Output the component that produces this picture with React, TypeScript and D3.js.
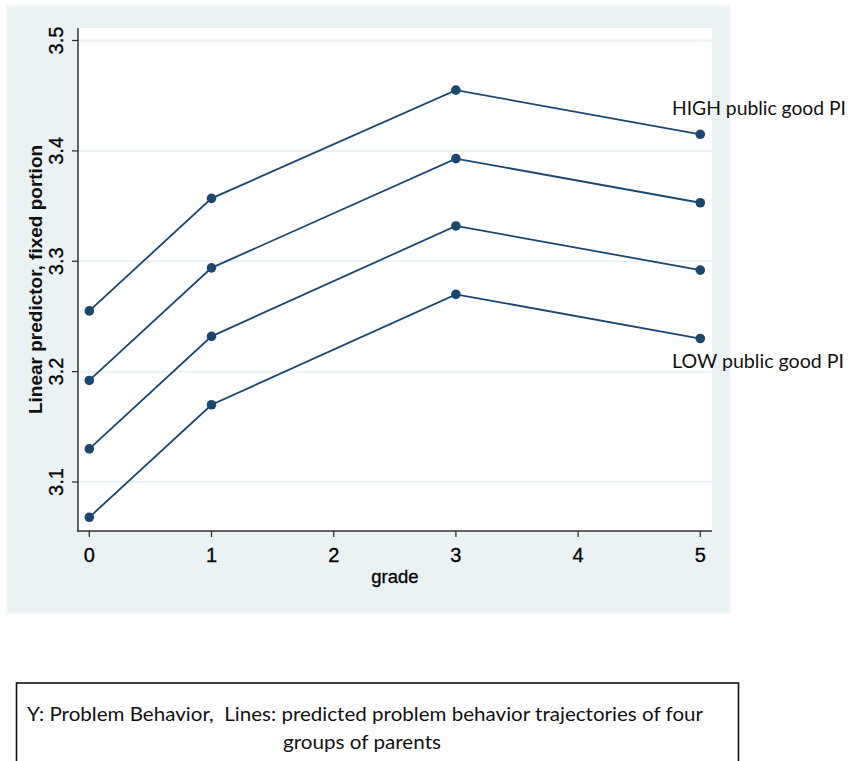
import React from 'react';
import * as d3 from 'd3';

// predicted problem behavior, four groups of parents (public good PI)
const grades = [0, 1, 3, 5];
const highPI = [3.255, 3.357, 3.455, 3.415];
const midHighPI = [3.192, 3.294, 3.393, 3.353];
const midLowPI = [3.13, 3.232, 3.332, 3.292];
const lowPI = [3.068, 3.17, 3.27, 3.23];
const seriesList = [highPI, midHighPI, midLowPI, lowPI];

const xTicks = [0, 1, 2, 3, 4, 5];
const yTicks = [3.1, 3.2, 3.3, 3.4, 3.5];

const W = 849;
const H = 761;
const plot = { left: 78, right: 712, top: 28, bottom: 531 };
const lineColor = '#1a476f';
const bg = '#eaf2f3';

const App: React.FC = () => {
  const x = d3.scaleLinear().domain([0, 5]).range([89.3, 700.3]);
  const y = d3.scaleLinear().domain([3.1, 3.5]).range([482, 40.5]);

  const line = d3
    .line<number>()
    .x((_, i) => x(grades[i]))
    .y(d => y(d));

  const axisFont = '"Liberation Sans", Arial, sans-serif';
  const noteFont = 'Lato, "Open Sans", sans-serif';

  return (
    <svg
      width={W}
      height={H}
      style={{ position: 'absolute', left: 0, top: 0, background: '#fff' }}
    >
      {/* graph region */}
      <rect x={7} y={6} width={723} height={607} fill={bg} stroke="#f3f7f8" strokeWidth={2} />
      <rect
        x={plot.left}
        y={plot.top}
        width={plot.right - plot.left}
        height={plot.bottom - plot.top}
        fill="#fff"
      />

      {/* gridlines */}
      {yTicks.map(t => (
        <line
          key={'g' + t}
          x1={plot.left}
          x2={plot.right}
          y1={y(t)}
          y2={y(t)}
          stroke={bg}
          strokeWidth={2}
        />
      ))}

      {/* axes */}
      <line x1={plot.left} x2={plot.left} y1={plot.top} y2={plot.bottom + 0.75} stroke="#333" strokeWidth={1.5} />
      <line x1={plot.left - 0.75} x2={plot.right} y1={plot.bottom} y2={plot.bottom} stroke="#333" strokeWidth={1.5} />

      {yTicks.map(t => (
        <g key={'y' + t}>
          <line x1={plot.left - 6} x2={plot.left} y1={y(t)} y2={y(t)} stroke="#333" strokeWidth={1.3} />
          <text
            transform={`translate(63,${y(t)}) rotate(-90)`}
            textAnchor="middle"
            fontFamily={axisFont}
            fontSize={20}
            fill="#000"
            stroke="#000"
            strokeWidth={0.3}
          >
            {d3.format('.1f')(t)}
          </text>
        </g>
      ))}

      {xTicks.map(t => (
        <g key={'x' + t}>
          <line x1={x(t)} x2={x(t)} y1={plot.bottom} y2={plot.bottom + 6} stroke="#333" strokeWidth={1.3} />
          <text
            x={x(t)}
            y={562}
            textAnchor="middle"
            fontFamily={axisFont}
            fontSize={20}
            fill="#000"
            stroke="#000"
            strokeWidth={0.3}
          >
            {t}
          </text>
        </g>
      ))}

      <text
        x={(plot.left + plot.right) / 2}
        y={583}
        textAnchor="middle"
        fontFamily={axisFont}
        fontSize={18.5}
        fill="#000"
        stroke="#000"
        strokeWidth={0.3}
      >
        grade
      </text>
      <text
        transform={`translate(42,${(plot.top + plot.bottom) / 2}) rotate(-90)`}
        textAnchor="middle"
        fontFamily={axisFont}
        fontSize={19}
        fontWeight="bold"
        fill="#111"
      >
        Linear predictor, fixed portion
      </text>

      {/* series */}
      {seriesList.map((s, k) => (
        <g key={'s' + k}>
          <path d={line(s) || ''} fill="none" stroke={lineColor} strokeWidth={1.8} />
          {s.map((v, i) => (
            <circle key={i} cx={x(grades[i])} cy={y(v)} r={4.8} fill={lineColor} />
          ))}
        </g>
      ))}

      {/* annotations */}
      <text
        x={672}
        y={115}
        fontFamily={noteFont}
        fontSize={19.5}
        fill="#111"
        textLength={174}
        lengthAdjust="spacingAndGlyphs"
      >
        HIGH public good PI
      </text>
      <text
        x={672}
        y={368}
        fontFamily={noteFont}
        fontSize={19.5}
        fill="#111"
        textLength={172}
        lengthAdjust="spacingAndGlyphs"
      >
        LOW public good PI
      </text>

      {/* caption box */}
      <rect x={16.5} y={683} width={722} height={100} fill="#fff" stroke="#111" strokeWidth={1.6} />
      <text
        x={27}
        y={721}
        fontFamily={noteFont}
        fontSize={19}
        fill="#111"
        textLength={676}
        lengthAdjust="spacingAndGlyphs"
        style={{ whiteSpace: 'pre' }}
      >
        {'Y: Problem Behavior,  Lines: predicted problem behavior trajectories of four'}
      </text>
      <text
        x={283}
        y={749}
        fontFamily={noteFont}
        fontSize={19}
        fill="#111"
        textLength={158}
        lengthAdjust="spacingAndGlyphs"
      >
        groups of parents
      </text>
    </svg>
  );
};

export default App;
